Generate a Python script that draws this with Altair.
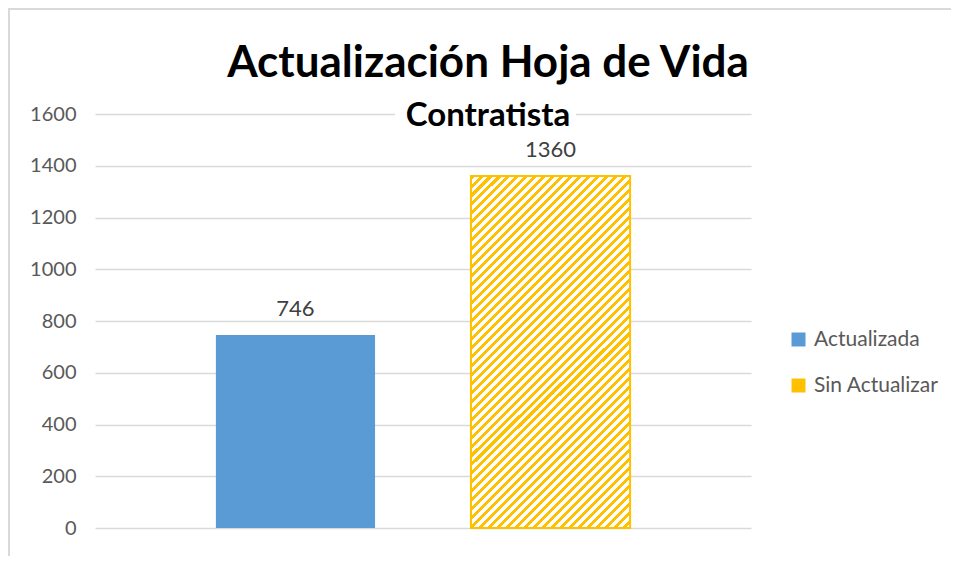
import altair as alt
import pandas as pd

categories = ["Actualizada", "Sin Actualizar"]
values = [746, 1360]
colors = ["#5B9BD5", "#FFC000"]
y_ticks = [0, 200, 400, 600, 800, 1000, 1200, 1400, 1600]
title_text = "Actualización Hoja de Vida"
subtitle_text = "Contratista"

df = pd.DataFrame({"estado": categories, "valor": values})

# diagonal hatch built as a hard-stop linear gradient
n_periods = 57
stops = []
for i in range(n_periods):
    a = i / n_periods
    b = (i + 0.45) / n_periods
    c = (i + 1) / n_periods
    stops += [
        alt.GradientStop(color="#FFC000", offset=a),
        alt.GradientStop(color="#FFC000", offset=b),
        alt.GradientStop(color="#FFFFFF", offset=b),
        alt.GradientStop(color="#FFFFFF", offset=c),
    ]
hatch = alt.LinearGradient(gradient="linear", stops=stops, x1=0, y1=0, x2=0.545, y2=1.206)

x_enc = alt.X("estado:N", sort=categories, axis=None,
              scale=alt.Scale(paddingInner=0.376, paddingOuter=0.474))
y_enc = alt.Y("valor:Q", scale=alt.Scale(domain=[0, 1600]),
              axis=alt.Axis(values=y_ticks, title=None, domain=False, ticks=False,
                            format="d",
                            labelFont="Lato", labelFontSize=20, labelColor="#595959",
                            labelPadding=19, gridColor="#D9D9D9", gridWidth=1.3))

base = alt.Chart(df)

bars = base.mark_bar().encode(
    x=x_enc,
    y=y_enc,
    color=alt.Color("estado:N", sort=categories,
                    scale=alt.Scale(domain=categories, range=colors),
                    legend=alt.Legend(title=None, orient="none", legendX=693, legendY=215,
                                      symbolType="square", symbolSize=196,
                                      symbolStrokeWidth=0, labelFont="Lato",
                                      labelFontSize=21, labelColor="#595959",
                                      rowPadding=24, labelOffset=5)),
)

hatched = base.transform_filter(alt.datum.estado == "Sin Actualizar").mark_bar(
    fill=hatch, stroke="#FFC000", strokeWidth=2
).encode(x=x_enc, y=alt.Y("valor:Q"))

labels = base.mark_text(dy=-14, baseline="bottom", font="Lato", fontSize=22,
                        color="#404040").encode(x=x_enc, y=alt.Y("valor:Q"), text="valor:Q")

# white box behind the subtitle so the top gridline is interrupted, as in the original
gap = alt.Chart(pd.DataFrame({"a": [0]})).mark_rect(fill="white").encode(
    x=alt.value(300), x2=alt.value(481), y=alt.value(-3), y2=alt.value(3))

# chart-area frame (left and top edges)
frame_left = alt.Chart(pd.DataFrame({"a": [0]})).mark_rule(color="#D9D9D9", strokeWidth=2).encode(
    x=alt.value(-86), y=alt.value(-105), y2=alt.value(442))
frame_top = alt.Chart(pd.DataFrame({"a": [0]})).mark_rule(color="#D9D9D9", strokeWidth=2).encode(
    x=alt.value(-87), x2=alt.value(856), y=alt.value(-105))

chart = alt.layer(frame_left, frame_top, bars, hatched, labels, gap).properties(
    width=656,
    height=414,
    autosize=alt.AutoSizeParams(type="none"),
    padding={"left": 87, "top": 106, "right": 200, "bottom": 36},
    title=alt.TitleParams(
        text=title_text, subtitle=subtitle_text,
        font="Lato", fontSize=44, fontWeight="bold", color="#000000",
        subtitleFont="Lato", subtitleFontSize=33, subtitleFontWeight="bold",
        subtitleColor="#000000", anchor="middle", frame="group", dx=65, offset=-125,
        subtitlePadding=14,
    ),
).configure_view(stroke=None)

chart.save("out.html", embed_options={"renderer": "svg", "actions": False})
